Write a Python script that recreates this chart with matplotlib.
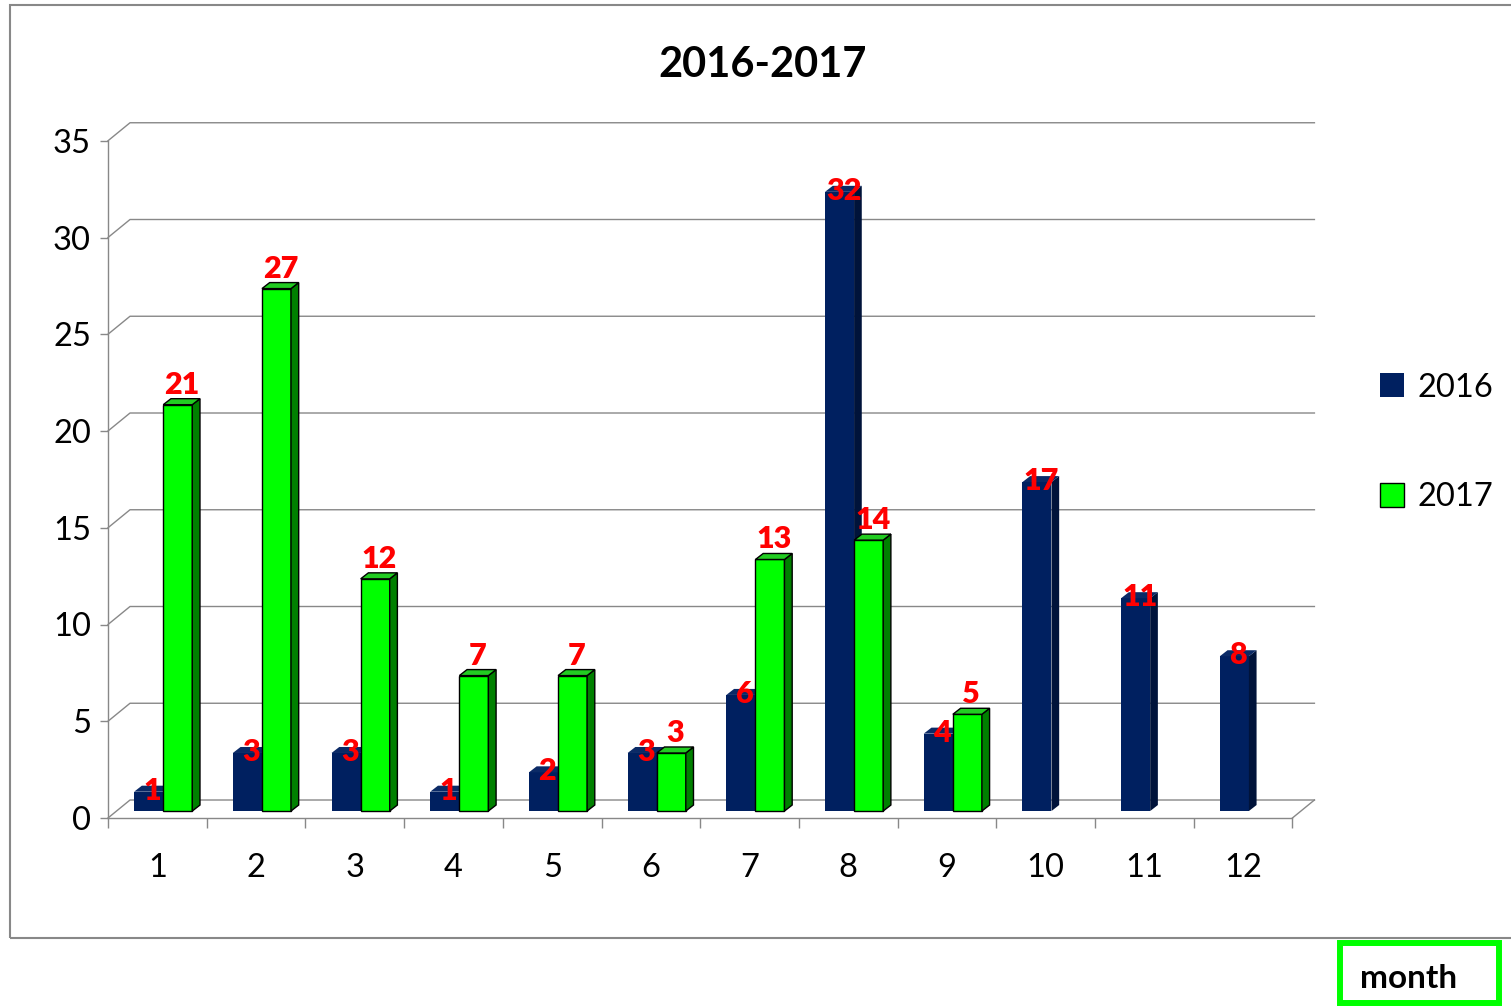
import numpy as np
import matplotlib.pyplot as plt
from matplotlib.patches import Polygon, Rectangle, Patch

months = [str(m) for m in range(1, 13)]
sales_2016 = [1, 3, 3, 1, 2, 3, 6, 32, 4, 17, 11, 8]
sales_2017 = [21, 27, 12, 7, 7, 3, 13, 14, 5, None, None, None]
y_ticks = [0, 5, 10, 15, 20, 25, 30, 35]

plt.rcParams['font.family'] = ['Lato', 'DejaVu Sans']

navy, navy_side, navy_top = '#002060', '#00133a', '#0b2a66'
green, green_side, green_top = '#00ff00', '#008000', '#22cc22'
grid = '#888888'

W, H = 1511, 1008
fig = plt.figure(figsize=(W / 100, H / 100), dpi=100)

# pixel scale of one category / one unit, used to place the axes
xpx, ypx = 98.7, 19.35
ax = fig.add_axes([108 / W, (H - 818) / H, 12.3 * xpx / W, 36.2 * ypx / H])
ax.set_xlim(0, 12.3)
ax.set_ylim(0, 36.2)
ax.patch.set_visible(False)

# fake 3d: back wall offset, bar plane, bar depth
dxb, dyb = 0.223, 0.93
base = 0.36
ddx, ddy = 0.078, 0.31

for v in y_ticks:
    ax.plot([0, dxb, 12 + dxb], [v + 0, v + dyb, v + dyb], color=grid, lw=1, zorder=1, clip_on=False)
ax.plot([12, 12 + dxb], [0, dyb], color=grid, lw=1, zorder=1, clip_on=False)

for s in ['top', 'right']:
    ax.spines[s].set_visible(False)
ax.spines['left'].set_bounds(0, 35)
ax.spines['bottom'].set_bounds(0, 12)
for s in ['left', 'bottom']:
    ax.spines[s].set_color(grid)
    ax.spines[s].set_linewidth(1)

x = np.arange(12) + 0.5
w = 0.294
v17 = np.array([np.nan if v is None else v for v in sales_2017], dtype=float)

b16 = ax.bar(x - 0.235, sales_2016, width=w, bottom=base, align='edge', color=navy, zorder=3)
b17 = ax.bar(x + 0.06, v17, width=w, bottom=base, align='edge', color=green,
             edgecolor='black', linewidth=1, zorder=4)


def add_faces(bars, side, top, edge, z, vals, off):
    for rect, v in zip(bars.patches, vals):
        if v is None or np.isnan(v):
            continue
        x0, y0, bw, bh = rect.get_x(), rect.get_y(), rect.get_width(), rect.get_height()
        x1, y1 = x0 + bw, y0 + bh
        ax.add_patch(Polygon([(x1, y0), (x1 + ddx, y0 + ddy), (x1 + ddx, y1 + ddy), (x1, y1)],
                             closed=True, facecolor=side, edgecolor=edge, lw=1, zorder=z))
        ax.add_patch(Polygon([(x0, y1), (x0 + ddx, y1 + ddy), (x1 + ddx, y1 + ddy), (x1, y1)],
                             closed=True, facecolor=top, edgecolor=edge, lw=1, zorder=z))
        ax.text(x0 + bw / 2 + 0.04, y1 + off, '%d' % v, ha='center', va='baseline',
                color='red', fontsize=22, fontweight='heavy', zorder=6, clip_on=False)


add_faces(b16, navy_side, navy_top, 'none', 3, sales_2016, -0.42)
add_faces(b17, green_side, green_top, 'black', 4, list(v17), 0.57)

ax.set_yticks(y_ticks)
ax.tick_params(axis='y', direction='out', length=5.8, width=1, color=grid, pad=6.5, labelsize=23.5)
ax.set_xticks(np.arange(13))
ax.set_xticklabels([])
ax.set_xticks(x, minor=True)
ax.set_xticklabels(months, minor=True)
ax.tick_params(axis='x', which='major', direction='out', length=7.2, width=1, color=grid)
ax.tick_params(axis='x', which='minor', length=0, pad=25, labelsize=23.5)

fig.text(763 / W, 1 - 65 / H, '2016-2017', ha='center', va='center', fontsize=30, fontweight='bold')

fig.legend(handles=[Patch(facecolor=navy, label='2016'),
                    Patch(facecolor=green, edgecolor='black', label='2017')],
           loc='center left', bbox_to_anchor=(1380 / W, 1 - 442.5 / H), frameon=False,
           fontsize=23.5, handlelength=0.75, handleheight=0.75, handletextpad=0.4,
           labelspacing=2.44, borderpad=0, borderaxespad=0)

# outer chart border
fig.add_artist(Rectangle((10 / W, 1 - 938 / H), 1520 / W, 933 / H, transform=fig.transFigure,
                         fill=False, edgecolor=grid, lw=1.5))
# month box
fig.add_artist(Rectangle((1340 / W, 1 - 1003 / H), 159 / W, 60 / H, transform=fig.transFigure,
                         fill=False, edgecolor='#00ff00', lw=4.3))
fig.text(1360 / W, 1 - 988 / H, 'month', ha='left', va='baseline', fontsize=24, fontweight='bold')

fig.savefig('out.png', dpi=100)
